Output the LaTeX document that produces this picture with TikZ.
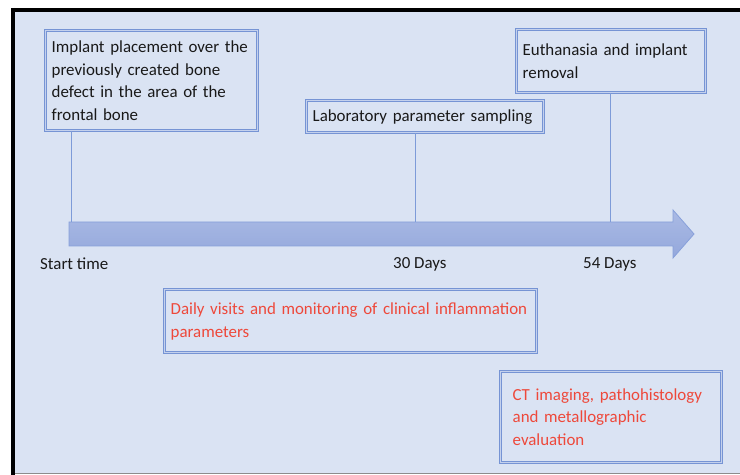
\documentclass[tikz,border=0pt]{standalone}
\usepackage{fontspec}
\setmainfont{Carlito}
\definecolor{bg}{RGB}{218,227,243}
\definecolor{boxblue}{RGB}{118,148,212}
\definecolor{boxinner}{RGB}{196,209,237}
\definecolor{linkblue}{RGB}{125,155,216}
\definecolor{arrowtop}{RGB}{170,186,228}
\definecolor{arrowbot}{RGB}{148,168,220}
\definecolor{arrowedge}{RGB}{135,160,218}
\definecolor{redtext}{RGB}{238,72,58}
\newcommand\myboxfont{\fontsize{16.9bp}{22.8bp}\selectfont\hyphenpenalty 10000 \exhyphenpenalty 10000 }
\begin{document}
\begin{tikzpicture}[x=1bp,y=-1bp,
  box/.style={draw=boxblue, double=boxinner, double distance=0.8bp, line width=1.3bp,
    fill=bg, font=\myboxfont, align=left,
    inner xsep=6bp, inner ysep=0pt, anchor=north west, text=black!90},
  redbox/.style={box, text=redtext},
  lbl/.style={font=\myboxfont, inner sep=0pt, anchor=west, text=black!90},
  link/.style={draw=linkblue, line width=0.9bp}]
\useasboundingbox (0,0) rectangle (740,475);
\fill[white] (0,0) rectangle (740,475);
\fill[bg] (13,10) rectangle (740,473);
\draw[black!45, line width=1bp] (13,473.5) -- (740,473.5);
\draw[black, line width=4bp] (11,10) -- (740,10);
\draw[black, line width=4bp] (13,8) -- (13,475);

% timeline arrow
\shade[top color=arrowtop, bottom color=arrowbot, draw=arrowedge, line width=0.8bp]
  (69,222) -- (673,222) -- (673,210) -- (694,234) -- (673,258) -- (673,246) -- (69,246) -- cycle;
\coordinate (t1) at (71,222);
\coordinate (t2) at (415,222);
\coordinate (t3) at (610,222);

% boxes
\node[box, text width=200bp, minimum height=100bp] (b1) at (45,30)
  {Implant placement over the\\previously created bone\\defect in the area of the\\frontal bone};
\node[box, text width=225bp, minimum height=32bp] (b2) at (306,100)
  {Laboratory parameter sampling};
\node[box, text width=177bp, minimum height=63bp] (b3) at (516,29)
  {Euthanasia and implant\\removal};
\node[redbox, text width=360bp, minimum height=63bp] (b4) at (164,289)
  {Daily visits and monitoring of clinical inflammation\\parameters};
\node[redbox, inner xsep=12bp, text width=197bp, minimum height=91bp] (b5) at (500,371)
  {CT imaging, pathohistology\\and metallographic\\evaluation};

% connectors
\draw[link] (t1 |- b1.south) -- (t1);
\draw[link] (t2 |- b2.south) -- (t2);
\draw[link] (t3 |- b3.south) -- (t3);

% labels
\node[lbl] (l1) at (40,264) {Start time};
\node[lbl] (l2) at (393,264) {30 Days};
\node[lbl] (l3) at (583,264) {54 Days};
\end{tikzpicture}
\end{document}
